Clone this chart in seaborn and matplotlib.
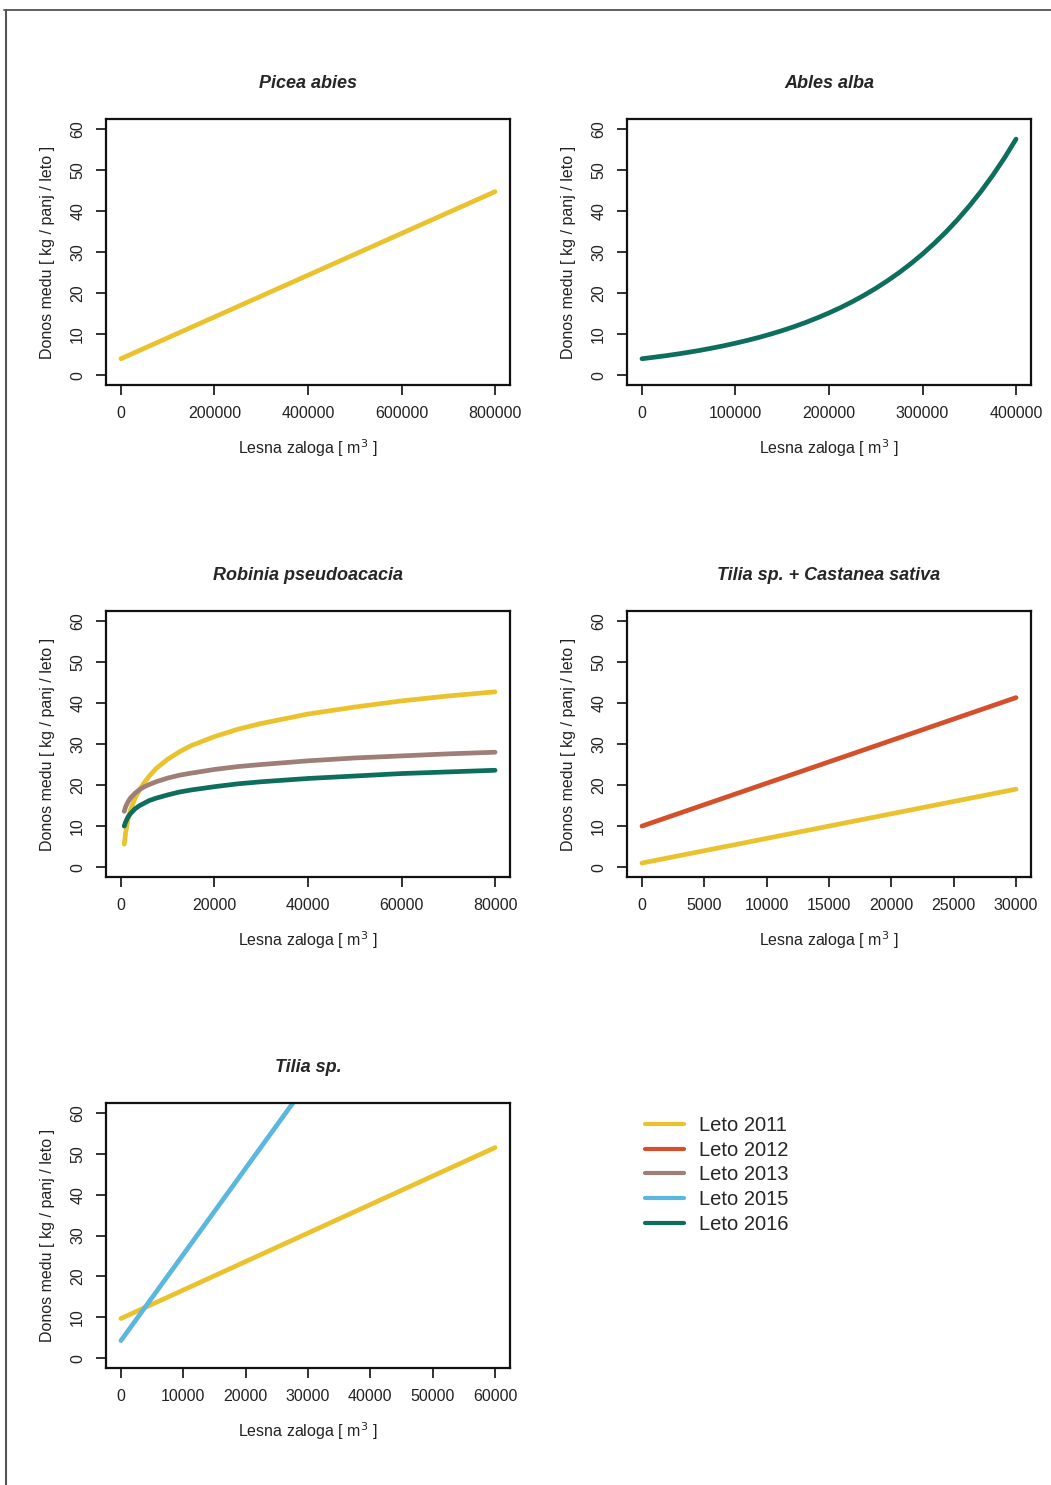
import numpy as np
import pandas as pd
import matplotlib
matplotlib.use("Agg")
import matplotlib.pyplot as plt
from matplotlib.lines import Line2D
import seaborn as sns

# Barve za posamezna leta
leta = ["Leto 2011", "Leto 2012", "Leto 2013", "Leto 2015", "Leto 2016"]
barve = ["#EAC22E", "#D4502B", "#9E7E76", "#5BB7DE", "#0E6E5E"]

# Picea abies
picea_x = [0, 800000]
picea_2011 = [4.0, 44.7]

# Ables alba
abies_x = [0, 12500, 25000, 37500, 50000, 62500, 75000, 87500, 100000,
           112500, 125000, 137500, 150000, 162500, 175000, 187500, 200000,
           212500, 225000, 237500, 250000, 262500, 275000, 287500, 300000,
           312500, 325000, 337500, 350000, 362500, 375000, 387500, 400000]
abies_2016 = [4.0, 4.35, 4.72, 5.13, 5.58, 6.06, 6.59, 7.16, 7.79,
              8.46, 9.19, 9.99, 10.86, 11.80, 12.83, 13.95, 15.16,
              16.47, 17.90, 19.46, 21.15, 22.99, 24.98, 27.15, 29.51,
              32.08, 34.86, 37.89, 41.19, 44.76, 48.65, 52.88, 57.5]

# Robinia pseudoacacia
robinia_x = [700, 1000, 1500, 2000, 3000, 4000, 5000, 6000, 7500, 10000, 12500,
             15000, 20000, 25000, 30000, 40000, 50000, 60000, 70000, 80000]
robinia_2011 = [5.6, 8.4, 11.6, 13.8, 16.8, 18.9, 20.6, 22.1, 24.0, 26.3, 28.1,
                29.6, 31.8, 33.6, 35.0, 37.3, 39.0, 40.5, 41.7, 42.7]
robinia_2013 = [13.6, 14.7, 15.9, 16.8, 18.0, 18.9, 19.6, 20.1, 20.8, 21.7, 22.4,
                22.9, 23.8, 24.5, 25.0, 25.9, 26.6, 27.1, 27.6, 28.0]
robinia_2016 = [10.0, 11.0, 12.2, 13.0, 14.2, 15.0, 15.6, 16.2, 16.8, 17.6, 18.3,
                18.8, 19.6, 20.3, 20.8, 21.6, 22.2, 22.8, 23.2, 23.6]

# Tilia sp. + Castanea sativa
tc_x = [0, 30000]
tc_2011 = [1.0, 19.0]
tc_2012 = [10.0, 41.3]

# Tilia sp.
tilia_x11 = [0, 60000]
tilia_2011 = [9.7, 51.5]
tilia_x15 = [0, 30000]
tilia_2015 = [4.3, 67.5]

sns.set_style("white")
plt.rcParams["font.family"] = ["Liberation Sans", "DejaVu Sans"]

fig = plt.figure(figsize=(10.51, 14.85), dpi=100)

W, H = 1051, 1485


def ax_at(left, top, right, bottom):
    return fig.add_axes([left / W, 1 - bottom / H, (right - left) / W, (bottom - top) / H])


def narisi(ax, krivulje, naslov, xmax, xticks):
    for x, y, leto in krivulje:
        df = pd.DataFrame({"x": x, "y": y, "leto": leto})
        sns.lineplot(data=df, x="x", y="y", hue="leto",
                     palette={l: c for l, c in zip(leta, barve)},
                     legend=False, lw=3.4, sort=False, estimator=None, ax=ax,
                     solid_joinstyle="round", solid_capstyle="round")
    ax.set_xlim(-0.04 * xmax, 1.04 * xmax)
    ax.set_ylim(-2.4, 62.4)
    ax.set_xticks(xticks)
    ax.set_xticklabels([str(t) for t in xticks])
    ax.set_yticks([0, 10, 20, 30, 40, 50, 60])
    ax.set_yticklabels(["0", "10", "20", "30", "40", "50", "60"], rotation=90, va="center")
    ax.tick_params(axis="both", direction="out", length=7, width=1.3,
                   labelsize=11.5, colors="#222222", pad=8, bottom=True, left=True)
    for s in ax.spines.values():
        s.set_linewidth(1.6)
        s.set_color("#111111")
    ax.set_title(naslov, fontsize=13, fontweight="bold", style="italic", pad=22)
    ax.set_xlabel("Lesna zaloga [ m$^3$ ]", fontsize=11.5, color="#222222", labelpad=12)
    ax.set_ylabel("Donos medu [ kg / panj / leto ]", fontsize=11.5, color="#222222", labelpad=11)


ax1 = ax_at(106, 119, 510, 385)
narisi(ax1, [(picea_x, picea_2011, "Leto 2011")], "Picea abies", 800000,
       [0, 200000, 400000, 600000, 800000])

ax2 = ax_at(627, 119, 1031, 385)
narisi(ax2, [(abies_x, abies_2016, "Leto 2016")], "Ables alba", 400000,
       [0, 100000, 200000, 300000, 400000])

ax3 = ax_at(106, 611, 510, 877)
narisi(ax3, [(robinia_x, robinia_2011, "Leto 2011"),
             (robinia_x, robinia_2013, "Leto 2013"),
             (robinia_x, robinia_2016, "Leto 2016")],
       "Robinia pseudoacacia", 80000, [0, 20000, 40000, 60000, 80000])

ax4 = ax_at(627, 611, 1031, 877)
narisi(ax4, [(tc_x, tc_2012, "Leto 2012"), (tc_x, tc_2011, "Leto 2011")],
       "Tilia sp. + Castanea sativa", 30000,
       [0, 5000, 10000, 15000, 20000, 25000, 30000])

ax5 = ax_at(106, 1103, 510, 1368)
narisi(ax5, [(tilia_x11, tilia_2011, "Leto 2011"), (tilia_x15, tilia_2015, "Leto 2015")],
       "Tilia sp.", 60000, [0, 10000, 20000, 30000, 40000, 50000, 60000])

# Legenda
rocaji = [Line2D([0], [0], color=c, lw=3) for c in barve]
fig.legend(rocaji, leta, loc="upper left", bbox_to_anchor=(645 / W, 1 - 1116 / H),
           frameon=False, fontsize=14.5, handlelength=1.95, handletextpad=0.75,
           labelspacing=0.28, borderpad=0, borderaxespad=0)

# Okvir strani
fig.add_artist(Line2D([4 / W, 1], [1 - 10 / H, 1 - 10 / H], color="#444444", lw=1.2))
fig.add_artist(Line2D([6 / W, 6 / W], [0, 1 - 10 / H], color="#555555", lw=1.5))

fig.savefig("out.png", dpi=100)
